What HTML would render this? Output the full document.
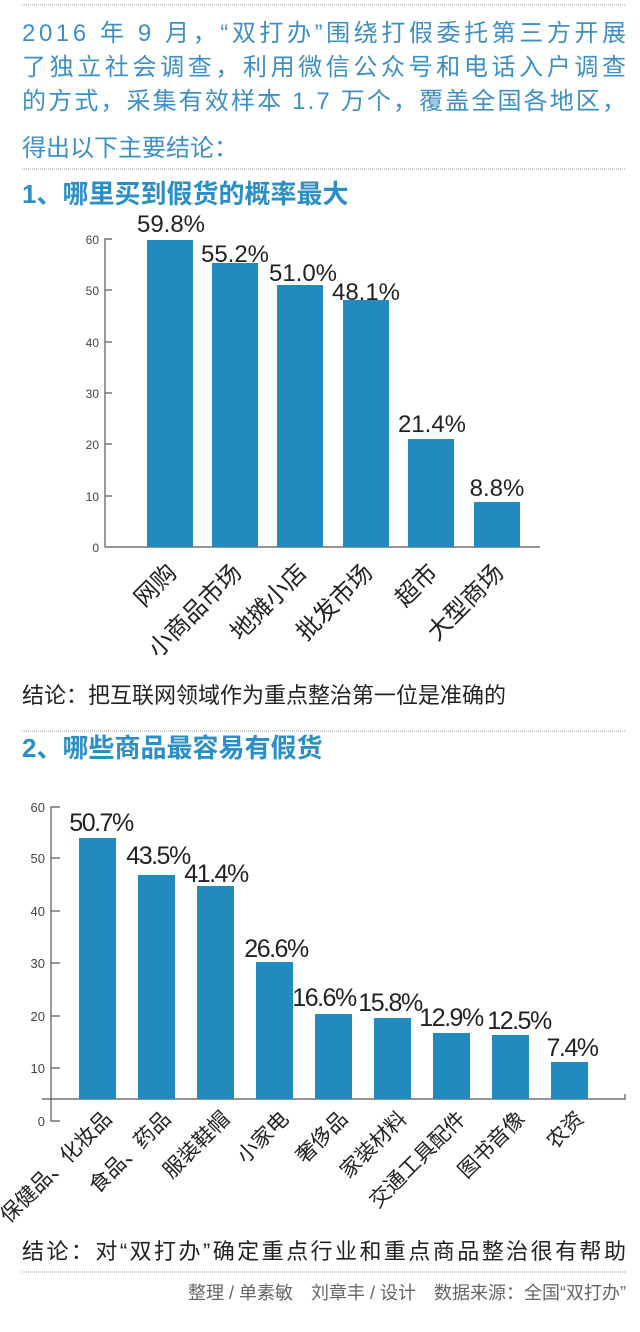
<!DOCTYPE html>
<html><head><meta charset="utf-8"><style>
body{margin:0;background:#fff;}
svg{display:block;font-family:"Liberation Sans","Noto Sans CJK SC",sans-serif;}
.hd{fill:#3d8fc4;font-size:24px;}
.h2{fill:#2a8fc5;font-size:26px;font-weight:bold;}
.con{fill:#222;font-size:22px;}
.tk{fill:#444;font-size:12px;text-anchor:end;}
.v{fill:#222;font-size:24px;text-anchor:middle;}
.v2{fill:#222;font-size:25px;text-anchor:middle;letter-spacing:-1.5px;}
.lb{fill:#222;font-size:24px;text-anchor:end;}
.lb2{fill:#222;font-size:21px;text-anchor:end;font-family:"Noto Sans CJK SC",sans-serif;}
.bar{fill:#238abd;}
.dot{stroke:#999;stroke-width:1;stroke-dasharray:1 1;}
.ax{stroke:#555;stroke-width:1.2;fill:none;}
</style></head><body>
<svg width="640" height="1332" viewBox="0 0 640 1332">
<line class="dot" x1="22" y1="5" x2="626" y2="5"/>
<text class="hd" x="22" y="41" textLength="604" lengthAdjust="spacing">2016 年 9 月，“双打办”围绕打假委托第三方开展</text>
<text class="hd" x="22" y="75" textLength="604" lengthAdjust="spacing">了独立社会调查，利用微信公众号和电话入户调查</text>
<text class="hd" x="22" y="109" textLength="604" lengthAdjust="spacing">的方式，采集有效样本 1.7 万个，覆盖全国各地区，</text>
<text class="hd" x="22" y="156">得出以下主要结论：</text>
<line class="dot" x1="22" y1="169" x2="626" y2="169"/>
<text class="h2" x="22" y="203">1、哪里买到假货的概率最大</text>

<g>
<polyline class="ax" points="112,239 105,239 105,547 540,547"/>
<line class="ax" x1="105" y1="290" x2="112" y2="290"/>
<line class="ax" x1="105" y1="342" x2="112" y2="342"/>
<line class="ax" x1="105" y1="393" x2="112" y2="393"/>
<line class="ax" x1="105" y1="444" x2="112" y2="444"/>
<line class="ax" x1="105" y1="496" x2="112" y2="496"/>
<text class="tk" x="99" y="244">60</text>
<text class="tk" x="99" y="295">50</text>
<text class="tk" x="99" y="347">40</text>
<text class="tk" x="99" y="398">30</text>
<text class="tk" x="99" y="449">20</text>
<text class="tk" x="99" y="501">10</text>
<text class="tk" x="99" y="552">0</text>
<rect class="bar" x="147" y="240" width="46" height="307"/>
<rect class="bar" x="212" y="263" width="46" height="284"/>
<rect class="bar" x="277" y="285" width="46" height="262"/>
<rect class="bar" x="343" y="300" width="46" height="247"/>
<rect class="bar" x="408" y="439" width="46" height="108"/>
<rect class="bar" x="474" y="502" width="46" height="45"/>
<text class="v" x="171" y="232">59.8%</text>
<text class="v" x="235" y="262">55.2%</text>
<text class="v" x="303" y="281">51.0%</text>
<text class="v" x="366" y="300">48.1%</text>
<text class="v" x="432" y="432">21.4%</text>
<text class="v" x="497" y="496">8.8%</text>
<text class="lb" transform="translate(178,574) rotate(-45)">网购</text>
<text class="lb" transform="translate(243,574) rotate(-45)">小商品市场</text>
<text class="lb" transform="translate(308,574) rotate(-45)">地摊小店</text>
<text class="lb" transform="translate(374,574) rotate(-45)">批发市场</text>
<text class="lb" transform="translate(439,574) rotate(-45)">超市</text>
<text class="lb" transform="translate(505,574) rotate(-45)">大型商场</text>
</g>

<text class="con" x="22" y="703">结论：把互联网领域作为重点整治第一位是准确的</text>
<line class="dot" x1="22" y1="731" x2="626" y2="731"/>
<text class="h2" x="22" y="757">2、哪些商品最容易有假货</text>

<g>
<polyline class="ax" points="60,807 51,807 51,1121 60,1121"/>
<line class="ax" x1="51" y1="858" x2="60" y2="858"/>
<line class="ax" x1="51" y1="911" x2="60" y2="911"/>
<line class="ax" x1="51" y1="963" x2="60" y2="963"/>
<line class="ax" x1="51" y1="1016" x2="60" y2="1016"/>
<line class="ax" x1="51" y1="1068" x2="60" y2="1068"/>
<polyline class="ax" points="42,1099 625,1099 625,1094"/>
<text class="tk" x="45" y="812" style="font-size:13px">60</text>
<text class="tk" x="45" y="863" style="font-size:13px">50</text>
<text class="tk" x="45" y="916" style="font-size:13px">40</text>
<text class="tk" x="45" y="968" style="font-size:13px">30</text>
<text class="tk" x="45" y="1021" style="font-size:13px">20</text>
<text class="tk" x="45" y="1073" style="font-size:13px">10</text>
<text class="tk" x="45" y="1126" style="font-size:13px">0</text>
<rect class="bar" x="79" y="838" width="37" height="261"/>
<rect class="bar" x="138" y="875" width="37" height="224"/>
<rect class="bar" x="197" y="886" width="37" height="213"/>
<rect class="bar" x="256" y="962" width="37" height="137"/>
<rect class="bar" x="315" y="1014" width="37" height="85"/>
<rect class="bar" x="374" y="1018" width="37" height="81"/>
<rect class="bar" x="433" y="1033" width="37" height="66"/>
<rect class="bar" x="492" y="1035" width="37" height="64"/>
<rect class="bar" x="551" y="1062" width="37" height="37"/>
<text class="v2" x="101" y="831">50.7%</text>
<text class="v2" x="158" y="864">43.5%</text>
<text class="v2" x="216" y="882">41.4%</text>
<text class="v2" x="276" y="957">26.6%</text>
<text class="v2" x="324" y="1006">16.6%</text>
<text class="v2" x="390" y="1011">15.8%</text>
<text class="v2" x="451" y="1026">12.9%</text>
<text class="v2" x="519" y="1029">12.5%</text>
<text class="v2" x="572" y="1056">7.4%</text>
<text class="lb2" transform="translate(113,1120) rotate(-45)">保健品、化妆品</text>
<text class="lb2" transform="translate(172,1120) rotate(-45)">食品、药品</text>
<text class="lb2" transform="translate(231,1120) rotate(-45)">服装鞋帽</text>
<text class="lb2" transform="translate(290,1120) rotate(-45)">小家电</text>
<text class="lb2" transform="translate(349,1120) rotate(-45)">奢侈品</text>
<text class="lb2" transform="translate(408,1120) rotate(-45)">家装材料</text>
<text class="lb2" transform="translate(467,1120) rotate(-45)">交通工具配件</text>
<text class="lb2" transform="translate(526,1120) rotate(-45)">图书音像</text>
<text class="lb2" transform="translate(585,1120) rotate(-45)">农资</text>
</g>

<text class="con" x="22" y="1259" textLength="604" lengthAdjust="spacing">结论：对“双打办”确定重点行业和重点商品整治很有帮助</text>
<line class="dot" x1="22" y1="1272" x2="626" y2="1272"/>
<text x="626" y="1299" text-anchor="end" style="fill:#666;font-size:18px;">整理 / 单素敏　刘章丰 / 设计　数据来源：全国“双打办”</text>
</svg>
</body></html>
